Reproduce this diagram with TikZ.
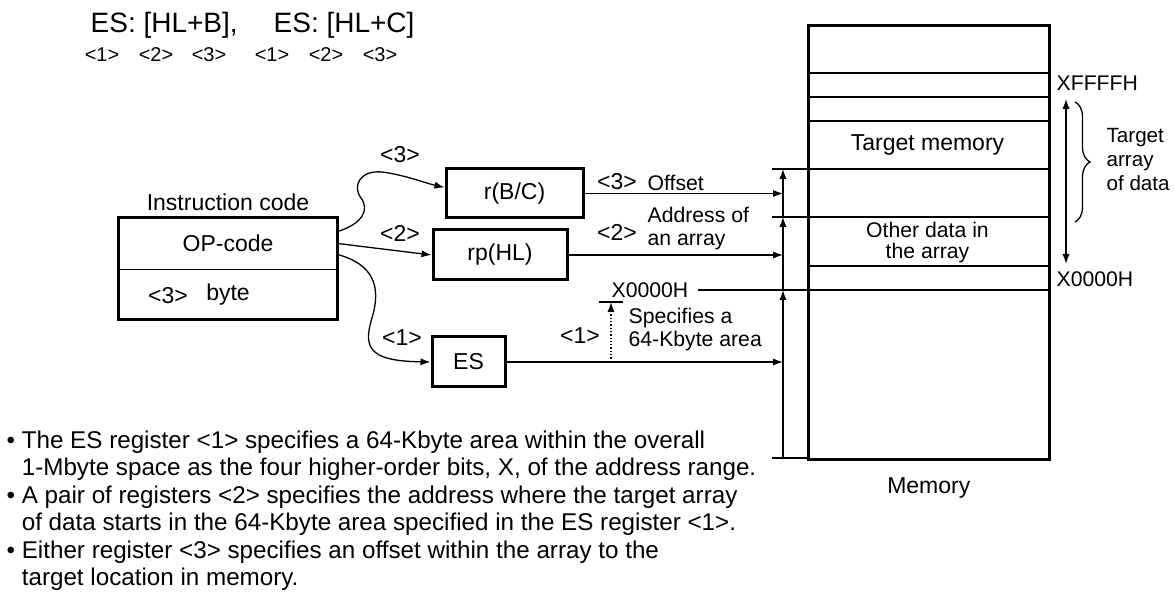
\documentclass[tikz,border=0pt]{standalone}
\usepackage{fontspec}
\setmainfont{Liberation Sans}
\usetikzlibrary{arrows.meta, positioning, decorations.pathreplacing}

\begin{document}
\begin{tikzpicture}[x=0.5pt, y=-0.5pt, line width=0.65pt,
    reg/.style={draw, line width=1.5pt, inner sep=0pt, font=\fontsize{11.5}{14}\selectfont},
    lbl/.style={inner sep=0pt, font=\fontsize{11.5}{14}\selectfont},
    small/.style={inner sep=0pt, align=left, font=\fontsize{10.6}{11.5}\selectfont},
    tag/.style={inner sep=0pt, font=\fontsize{10}{12}\selectfont},
    arr/.style={-{Latex[length=5pt, width=3.6pt]}}]
    \useasboundingbox (0,0) rectangle (1174,592);

    \node[anchor=west, inner sep=0pt, font=\fontsize{14}{16}\selectfont] (esb) at (90,25) {ES: [HL+B],};
    \node[anchor=west, inner sep=0pt, font=\fontsize{14}{16}\selectfont] (esc) at (273,25) {ES: [HL+C]};
    \foreach \x/\n [count=\i] in {102/1,156/2,209/3,272/1,326/2,380/3}
        \node[tag] (n\i) at (\x,55) {<\n>};

    \node[lbl, minimum width=109pt, minimum height=25.5pt] (op) at (228,243.5) {OP-code};
    \node[lbl, minimum width=109pt, minimum height=24.5pt, below=0pt of op] (byte) {byte};
    \node[lbl] (b3) at (168,296) {<3>};
    \node[lbl, above=3pt of op] (ic) {Instruction code};
    \draw[line width=1.5pt] (op.north west) rectangle (byte.south east);
    \draw (op.south west) -- (op.south east);

    \node[reg, minimum width=68.5pt, minimum height=24.5pt] (rbc) at (514.5,193.5) {r(B/C)};
    \node[reg, minimum width=67pt, minimum height=25pt] (rhl) at (500,255) {rp(HL)};
    \node[reg, minimum width=36.5pt, minimum height=25pt] (es) at (468.5,362) {ES};

    \node[draw, line width=1.3pt, minimum width=120.5pt, minimum height=217pt, inner sep=0pt, anchor=north west] (mem) at (807,24) {};
    \foreach \y in {73,97,121,169,266}
        \draw (807,\y) -- (1048,\y);
    \draw[line width=1pt] (807,217) -- (1048,217);
    \node[lbl] (tm) at (927.5,145) {Target memory};
    \node[small, align=center, font=\fontsize{10.6}{10.5}\selectfont] (od) at (927.5,243) {Other data in\\the array};
    \node[lbl, below=8pt of mem] (memlbl) {Memory};

    \coordinate (t1) at (783,169);
    \coordinate (t2) at (783,217);
    \coordinate (t3) at (783,290);
    \coordinate (t4) at (783,458);
    \foreach \c in {t1,t2,t4}
        \draw ([xshift=-5.5pt]\c) -- (\c -| mem.west);
    \draw[arr] (t2) -- (t1);
    \draw[arr] (t3) -- (t2);
    \draw[arr] (t4) -- (t3);
    \draw[arr] (rbc.east) -- (rbc.east -| t1);
    \draw[arr] (rhl.east) -- (rhl.east -| t1);
    \draw[arr] (es.east) -- (es.east -| t1);

    \node[small, anchor=west] (xlo) at (611,290) {X0000H};
    \draw ([xshift=4.5pt]xlo.east) -- (xlo.east -| mem.east);
    \coordinate (d0) at (611,362);
    \coordinate (d1) at (611,302);
    \draw[densely dotted, arr] (d0) -- (d1);
    \draw ([xshift=-6pt]d1) -- ([xshift=6pt]d1);
    \node[lbl] (l1) at (580,336) {<1>};
    \node[small, anchor=west] (spec) at (628,329.5) {Specifies a\\64-Kbyte area};
    \node[lbl] (l3) at (617,182) {<3>};
    \node[small, anchor=west] (off) at (647,183) {Offset};
    \node[lbl] (l2) at (617,232) {<2>};
    \node[small, anchor=west] (addr) at (647,229) {Address of\\an array};

    \draw[arr] ([yshift=6pt]op.east) .. controls (362,224) and (370,210) .. (361,198)
        .. controls (352,186) and (360,170) .. (382,172)
        .. controls (405,175) and (425,183) .. ([yshift=3pt]rbc.west);
    \node[lbl] (c3) at (400,155) {<3>};
    \draw[arr] (op.east) -- (rhl.west);
    \node[lbl] (c2) at (400,233) {<2>};
    \draw[arr] ([yshift=-5.5pt]op.east) .. controls (372,264) and (382,285) .. (372,318)
        .. controls (362,350) and (372,361) .. (es.west);
    \node[lbl] (c1) at (402,338) {<1>};

    \node[small, anchor=west] (xhi) at (1056,83) {XFFFFH};
    \node[small, anchor=west] (xlo2) at (1056,279) {X0000H};
    \coordinate (top) at (1066,99);
    \coordinate (bot) at (1066,264);
    \draw[{Latex[length=5pt, width=3.6pt]}-{Latex[length=5pt, width=3.6pt]}] (top) -- (bot);
    \draw[decorate, decoration={brace, amplitude=7.5pt}] (1075,102) -- (1075,222);
    \node[small, anchor=west, font=\fontsize{10.3}{12}\selectfont] (tad) at (1106,160) {Target\\array\\of data};

    \node[anchor=north west, inner sep=0pt, align=left, font=\fontsize{12.1}{13.75}\selectfont] (notes) at (6,430) {%
        \textbullet\ The ES register <1> specifies a 64-Kbyte area within the overall\\
        \phantom{\textbullet\ }1-Mbyte space as the four higher-order bits, X, of the address range.\\
        \textbullet\ A pair of registers <2> specifies the address where the target array\\
        \phantom{\textbullet\ }of data starts in the 64-Kbyte area specified in the ES register <1>.\\
        \textbullet\ Either register <3> specifies an offset within the array to the\\
        \phantom{\textbullet\ }target location in memory.};
\end{tikzpicture}
\end{document}
